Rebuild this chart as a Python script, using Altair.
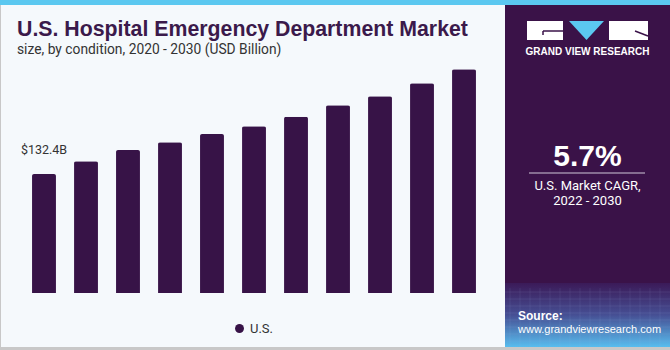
import altair as alt
import pandas as pd

# ---- data ----
years = ["2020", "2021", "2022", "2023", "2024", "2025", "2026", "2027", "2028", "2029", "2030"]
values = [132.4, 146.5, 159.1, 167.7, 176.9, 185.5, 196.2, 208.8, 218.8, 233.3, 248.9]
series_name = "U.S."
first_label = "$132.4B"

title_text = "U.S. Hospital Emergency Department Market"
subtitle_text = "size, by condition, 2020 - 2030 (USD Billion)"
brand_text = "GRAND VIEW RESEARCH"
cagr_value = "5.7%"
cagr_lines = ["U.S. Market CAGR,", "2022 - 2030"]
source_lines = ["Source:", "www.grandviewresearch.com"]

PURPLE = "#371347"
PANEL = "#3a1248"
BG = "#f5f9fc"
BLUE = "#5bc8f0"
FONT = "Roboto"
FONT2 = "Liberation Sans"

df = pd.DataFrame({"year": years, "value": values, "series": [series_name] * len(years)})
lab = pd.DataFrame({"year": [years[0]], "value": [values[0]], "text": [first_label]})

one = alt.Data(values=[{"a": 1}])


def rect(x, x2, y, y2, color, **kw):
    return alt.Chart(one).mark_rect(color=color, **kw).encode(
        x=alt.value(x), x2=alt.value(x2), y=alt.value(y), y2=alt.value(y2))


def rule(x, x2, y, y2, color, width=1, opacity=1):
    return alt.Chart(one).mark_rule(color=color, strokeWidth=width, opacity=opacity).encode(
        x=alt.value(x), x2=alt.value(x2), y=alt.value(y), y2=alt.value(y2))


def txt(s, x, y, size, color, weight="normal", align="left", font=FONT):
    return alt.Chart(one).mark_text(text=s, fontSize=size, color=color, fontWeight=weight,
                                    align=align, baseline="alphabetic", font=font).encode(
        x=alt.value(x), y=alt.value(y))


x_scale = alt.Scale(domain=years, range=[23, 485], paddingInner=0.43, paddingOuter=0.215)
y_scale = alt.Scale(domain=[0, 326])

bars = alt.Chart(df).mark_bar(cornerRadiusTopLeft=2, cornerRadiusTopRight=2).encode(
    x=alt.X("year:N", scale=x_scale,
            axis=alt.Axis(title=None, domain=False, ticks=False, labelAngle=0, labelFontSize=13,
                          labelFont=FONT, labelColor="#333333", labelPadding=4, grid=False)),
    y=alt.Y("value:Q", scale=y_scale, axis=None),
    color=alt.Color("series:N", scale=alt.Scale(range=[PURPLE]),
                    legend=alt.Legend(orient="none", legendX=233, legendY=322, title=None,
                                      symbolType="circle", symbolSize=80, labelFontSize=13,
                                      labelFont=FONT, labelColor="#333333", padding=0,
                                      symbolStrokeWidth=0)),
)

label = alt.Chart(lab).mark_text(fontSize=12.5, font=FONT, color="#333333", baseline="middle", dy=-24).encode(
    x=alt.X("year:N", scale=x_scale), y=alt.Y("value:Q", scale=y_scale), text="text:N")

grad = alt.Gradient(gradient="linear", x1=0, x2=0, y1=0, y2=1,
                    stops=[alt.GradientStop(color="#3b1a58", offset=0),
                           alt.GradientStop(color="#464f94", offset=0.5),
                           alt.GradientStop(color="#58bdee", offset=1)])

deco = [
    rect(0, 670, 0, 350, BG),
    rect(0, 670, 0, 5, BLUE),
    rect(505, 670, 5, 347, PANEL),
    rect(505, 670, 283, 347, grad),
]
# faint grid pattern in the gradient area
for yy in [292, 299, 306, 313, 320, 327, 334, 341]:
    deco.append(rule(505, 670, yy, yy, "#9fb8e8", 0.5, 0.25))
for xx in range(510, 670, 10):
    deco.append(rule(xx, xx, 288, 347, "#9fb8e8", 0.5, 0.2))
deco += [
    rect(0, 670, 347, 350, "#c8c8c8"),
    rect(0, 1, 5, 350, "#c8c8c8"),
    # logo
    rect(527, 563, 21, 40, "#ffffff"),
    rect(609, 648, 21, 40, "#ffffff"),
    rule(543, 563, 31, 31, PANEL, 1.5),
    rule(543, 543, 31, 35, PANEL, 1.5),
    rule(635, 648, 31, 36, PANEL, 1.5),
    alt.Chart(one).mark_point(shape="M-1,-0.54L1,-0.54L0,0.54Z", size=1225, filled=True,
                              color=BLUE, opacity=1, strokeWidth=0).encode(
        x=alt.value(586.5), y=alt.value(30.5)),
    txt(brand_text, 587.5, 55, 10, "#ffffff", "bold", "center", FONT2),
    txt(cagr_value, 587.5, 166, 30, "#ffffff", "bold", "center", FONT2),
    rule(529, 645, 173, 173, "#d0c8d8", 1),
    txt(cagr_lines[0], 587.5, 190, 13, "#ffffff", "normal", "center"),
    txt(cagr_lines[1], 587.5, 205, 13, "#ffffff", "normal", "center"),
    txt(source_lines[0], 518, 320, 12, "#ffffff", "bold", "left", FONT2),
    txt(source_lines[1], 518, 333, 11, "#ffffff", "normal", "left", FONT2),
    txt(title_text, 17, 36, 21.3, "#3b1a4b", "bold", "left", FONT2),
    txt(subtitle_text, 17, 54, 13.8, "#333333", "normal", "left"),
]

chart = alt.layer(*deco, bars, label).properties(
    width=670, height=293,
    autosize=alt.AutoSizeParams(type="none"),
    padding={"left": 0, "top": 0, "right": 0, "bottom": 57},
    background=BG,
).configure_view(stroke=None)

chart.save("out.html", embed_options={"renderer": "svg", "actions": False})
